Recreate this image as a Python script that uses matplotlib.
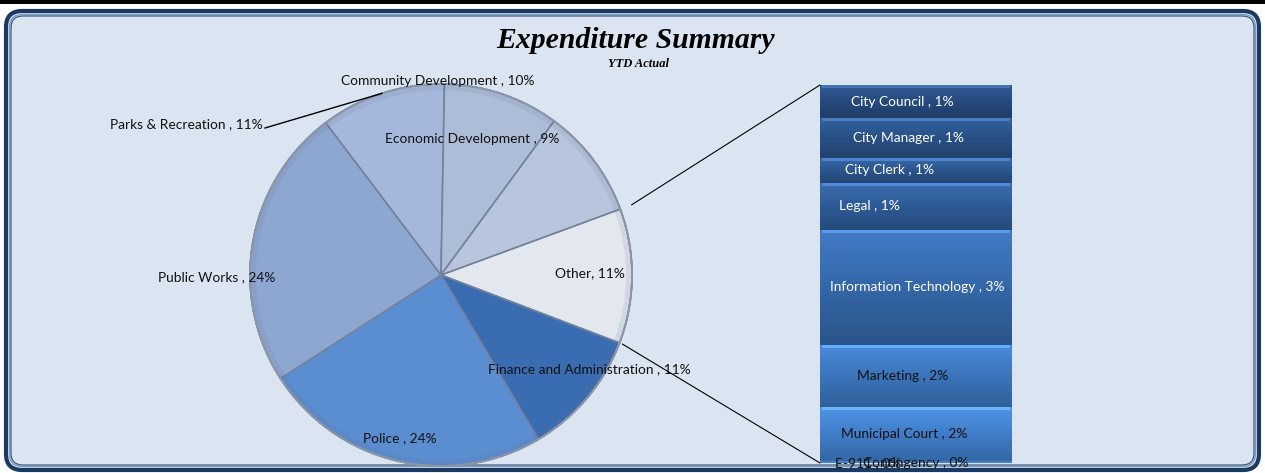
import numpy as np
import matplotlib
matplotlib.use("Agg")
import matplotlib.pyplot as plt
from matplotlib.patches import FancyBboxPatch, Rectangle, Wedge
from matplotlib.patches import ConnectionPatch
from matplotlib.colors import LinearSegmentedColormap, to_rgb

# ---------------- data ----------------
pie_labels = ["Other", "Finance and Administration", "Police", "Public Works",
              "Parks & Recreation", "Community Development", "Economic Development"]
pie_values = [11.4, 10.7, 24.4, 23.8, 10.6, 9.8, 9.3]

bar_labels = ["City Council", "City Manager", "City Clerk", "Legal",
              "Information Technology", "Marketing", "Municipal Court",
              "E-911", "Contingency"]
bar_values = [1.0, 1.2, 0.75, 1.42, 3.46, 1.87, 1.64, 0.03, 0.03]

title = "Expenditure Summary"
subtitle = "YTD Actual"

# ---------------- style ----------------
W, H = 1265, 473
fig = plt.figure(figsize=(W / 100, H / 100), dpi=100)
fig.patch.set_facecolor("white")
FONT = "Lato"
FS = 9.9

ax = fig.add_axes([0, 0, 1, 1])
ax.set_xlim(0, W)
ax.set_ylim(0, H)
ax.axis("off")

# top black strip
ax.add_patch(Rectangle((0, H - 4.5), W, 4.5, facecolor="black", edgecolor="none", zorder=1))
# panel with rounded double border
ax.add_patch(FancyBboxPatch((6, 3), W - 12, H - 14,
                            boxstyle="round,pad=0,rounding_size=16",
                            facecolor="#dbe5f1", edgecolor="#1b3a63", lw=3.0, zorder=1))
ax.add_patch(FancyBboxPatch((9.5, 6.5), W - 19, H - 21,
                            boxstyle="round,pad=0,rounding_size=13",
                            facecolor="none", edgecolor="#7f9bbf", lw=1.0, zorder=1.1))
ax.add_patch(FancyBboxPatch((11, 8), W - 22, H - 24,
                            boxstyle="round,pad=0,rounding_size=12",
                            facecolor="none", edgecolor="#2c4b75", lw=0.8, zorder=1.1))

# title
ax.text(636, 432, title, ha="center", va="center", fontsize=21.4,
        family="Liberation Serif", weight="bold", style="italic", color="black", zorder=5)
ax.text(638, 409, subtitle, ha="center", va="center", fontsize=9,
        family="Liberation Serif", weight="bold", style="italic", color="black", zorder=5)

# ---------------- pie ----------------
cx, cy, R = 441, 198, 191
pie_colors = ["#e3e7ee", "#3a6cb1", "#5b8dd1", "#8ea7d1", "#a5b8db", "#adbcd7", "#b8c5dd"]
wedges, _ = ax.pie(pie_values, center=(cx, cy), radius=R, startangle=20.2,
                   counterclock=False, colors=pie_colors,
                   wedgeprops=dict(edgecolor="#73829c", linewidth=1.2))
for w in wedges:
    w.set_zorder(2)
ax.set_xlim(0, W)
ax.set_ylim(0, H)
ax.set_aspect("auto")

# subtle rim shading
for w in wedges:
    rim = Wedge((cx, cy), R, w.theta1, w.theta2, width=6,
                facecolor="#5f6f8c", edgecolor="none", alpha=0.12, zorder=2.5)
    ax.add_patch(rim)
ax.add_patch(Wedge((cx, cy), R, 0, 360, width=0.01, facecolor="none",
                   edgecolor="#8a95a8", lw=1.2, zorder=2.6))

def fmt(v):
    return f"{round(v):d}%"

pie_text = {
    "Other": (590, 200, "center", "Other, "),
    "Finance and Administration": (589, 104, "center", "Finance and Administration , "),
    "Police": (400, 35, "center", "Police , "),
    "Public Works": (217, 196, "center", "Public Works , "),
    "Parks & Recreation": (263, 349, "right", "Parks & Recreation , "),
    "Community Development": (438, 392, "center", "Community Development , "),
    "Economic Development": (472, 334, "center", "Economic Development , "),
}
for lab, v in zip(pie_labels, pie_values):
    x, y, ha, pre = pie_text[lab]
    ax.text(x, y, pre + fmt(v), ha=ha, va="center", fontsize=FS,
            family=FONT, color="#111111", zorder=6)

# Parks leader line to rim at mid-angle
pw = wedges[pie_labels.index("Parks & Recreation")]
mid = np.deg2rad((pw.theta1 + pw.theta2) / 2)
ax.plot([265, cx + R * np.cos(mid)], [345, cy + R * np.sin(mid)],
        color="black", lw=1.0, zorder=6)

# ---------------- bar of "other" ----------------
bx0, bx1 = 820, 1012
by0, by1 = 10, 388
bax = fig.add_axes([bx0 / W, by0 / H, (bx1 - bx0) / W, (by1 - by0) / H])
bax.axis("off")
bax.patch.set_alpha(0)

vals_bottom_up = bar_values[::-1]
labs_bottom_up = bar_labels[::-1]
bottoms = np.concatenate([[0], np.cumsum(vals_bottom_up)[:-1]])
total = sum(bar_values)
rects = bax.bar([0.5] * len(vals_bottom_up), vals_bottom_up, width=1.0,
                bottom=bottoms, color="#3a70b5", edgecolor="none")

top_col = np.array(to_rgb("#24487a"))
bot_col = np.array(to_rgb("#4282cf"))
for rect, b, v in zip(rects, bottoms, vals_bottom_up):
    f = (b + v / 2) / total  # 0 bottom -> 1 top
    base = bot_col * (1 - f) + top_col * f
    light = np.clip(base * 1.12 + 0.03, 0, 1)
    dark = base * 0.82
    cmap = LinearSegmentedColormap.from_list("g", [dark, base, light])
    grad = np.linspace(0, 1, 64).reshape(-1, 1)
    im = bax.imshow(grad, extent=(0, 1, b, b + v), origin="lower", cmap=cmap,
                    aspect="auto", zorder=2, interpolation="bicubic")
    im.set_clip_path(rect)
    rect.set_alpha(0)
    if v > 0.3:
        hl = np.clip(base * 1.35 + 0.08, 0, 1)
        bax.add_patch(Rectangle((0.01, b + v - 0.1), 0.98, 0.1, facecolor=hl,
                                edgecolor="none", zorder=3, alpha=0.9))
bax.set_xlim(0, 1)
bax.set_ylim(0, total)

bar_text = {
    "City Council": (0.427, "white", "City Council , "),
    "City Manager": (0.46, "white", "City Manager , "),
    "City Clerk": (0.36, "white", "City Clerk , "),
    "Legal": (0.26, "white", "Legal , "),
    "Information Technology": (0.505, "white", "Information Technology , "),
    "Marketing": (0.43, "#111111", "Marketing , "),
    "Municipal Court": (0.44, "#111111", "Municipal Court , "),
    "E-911": (0.25, "#111111", "E-911 , "),
    "Contingency": (0.50, "#111111", "Contingency , "),
}
for lab, b, v in zip(labs_bottom_up, bottoms, vals_bottom_up):
    xf, col, pre = bar_text[lab]
    yv = b + v / 2
    if v < 0.3:
        yv = 0.0
    bax.text(xf, yv, pre + fmt(v), ha="center", va="center", fontsize=FS,
             family=FONT, color=col, zorder=6, clip_on=False)

# leader lines from Other wedge to bar corners
ow = wedges[pie_labels.index("Other")]
for ang, yb, rr in [(ow.theta2, total, R + 12), (ow.theta1, 0, R + 3)]:
    a = np.deg2rad(ang)
    p = (cx + rr * np.cos(a), cy + rr * np.sin(a))
    con = ConnectionPatch(xyA=p, coordsA=ax.transData, xyB=(0, yb), coordsB=bax.transData,
                          color="black", lw=0.8, zorder=7)
    fig.add_artist(con)

fig.savefig("out.png", dpi=100, facecolor="white")
